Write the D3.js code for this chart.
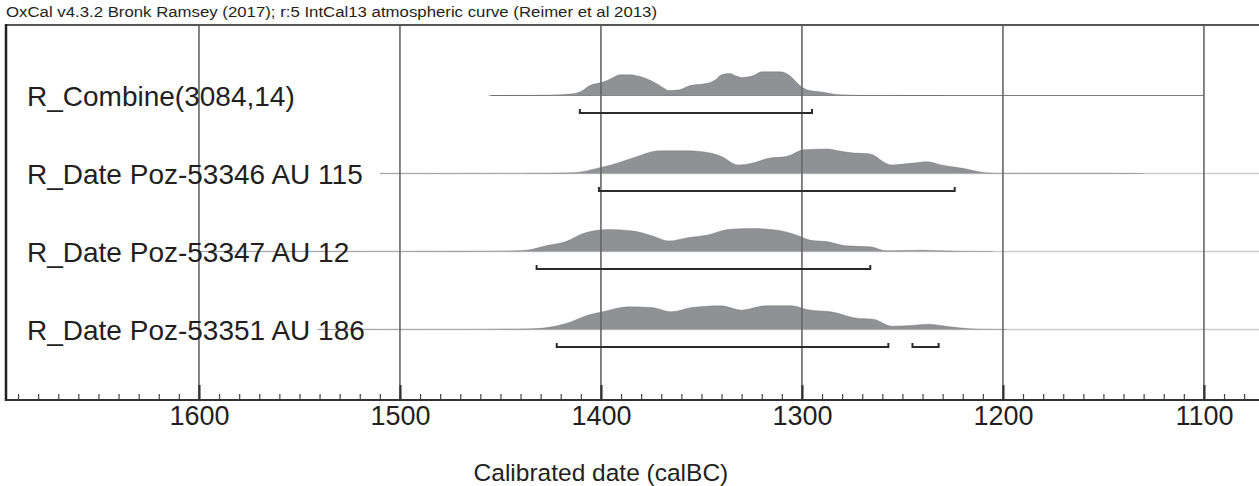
<!DOCTYPE html>
<html>
<head>
<meta charset="utf-8">
<script src="https://cdn.jsdelivr.net/npm/d3@7"></script>
<style>
  html, body { margin: 0; padding: 0; background: #fff; }
  svg { display: block; }
  text { font-family: "Liberation Sans", Arial, sans-serif; fill: #231f20; }
</style>
</head>
<body>
<svg id="chart" width="1259" height="486"></svg>
<script>
// ---- data -------------------------------------------------------------
const headerText = "OxCal v4.3.2 Bronk Ramsey (2017); r:5 IntCal13 atmospheric curve (Reimer et al 2013)";
const axisTitle = "Calibrated date (calBC)";

const rowLabels = [
  "R_Combine(3084,14)",
  "R_Date Poz-53346 AU 115",
  "R_Date Poz-53347 AU 12",
  "R_Date Poz-53351 AU 186"
];

// probability density per row: [year calBC, relative probability]
const combineDensity = [
  [1456,0],[1440,0.1],[1430,0.3],[1420,0.8],[1414,1.7],[1410,4],[1405.5,10],[1399.5,13.3],
  [1395,17],[1390.5,21],[1385.6,21],[1381,19.5],[1377,16.7],[1372,11.7],[1365.7,5],[1361,5.7],
  [1355.7,10],[1347,12.3],[1343,16],[1340,21],[1336,22.3],[1333,20],[1330,18.3],[1324.4,20],
  [1320,24],[1311,24],[1306,20],[1301,10],[1297.5,5.7],[1289.5,3.3],[1281,0.7],[1270,0.2],
  [1250,0.05],[1230,0]
];
const poz53346Density = [
  [1510,0],[1470,0.05],[1440,0.1],[1429,0.2],[1414,0.7],[1400,6.2],[1395,8.6],[1383,16.5],
  [1371,23],[1357.4,23],[1347,21.3],[1340,17.2],[1331.8,8.6],[1325,10.3],[1316.4,15.5],
  [1307.7,17.2],[1299,24],[1287,24.8],[1282,23],[1274.3,20.7],[1266.6,20],[1255.5,8.6],
  [1246,10.3],[1237.5,12],[1230.6,8.6],[1220,5.2],[1208.5,0.7],[1203,0.3],[1180,0.15],
  [1150,0.2],[1130,0]
];
const poz53347Density = [
  [1600,0],[1500,0.1],[1470,0.2],[1455,0.3],[1445,0.6],[1437,1.3],[1427.4,5.7],[1417.5,10],
  [1407.7,19],[1396,22.3],[1384,20.7],[1374.3,15.7],[1366.4,10.7],[1356.7,14],[1346.8,16.7],
  [1336.8,22.3],[1325,23.3],[1311.4,21.3],[1301.5,15.7],[1295.6,11.3],[1287.8,10],[1278,5.7],
  [1266,4.7],[1258,0.7],[1250,0.9],[1240.5,1.3],[1230.8,0.7],[1221,0.2],[1205,0]
];
const poz53351Density = [
  [1541,0],[1470,0.1],[1452.5,0.3],[1434,0.7],[1417.4,6],[1406.5,14.5],[1399,18],[1386,23],
  [1375,22.3],[1365,18],[1354.7,22.3],[1340,24],[1329.9,19.6],[1318,24],[1305,24],
  [1297.7,20.3],[1284.8,17.6],[1272,11.2],[1264.7,10.5],[1255,3.4],[1246,4],[1236.8,5.4],
  [1231,4],[1222,1.7],[1211,0.3],[1198,0]
];
const densities = [combineDensity, poz53346Density, poz53347Density, poz53351Density];

// full calculated span of each distribution [from, to] calBC
const rowSpans = [[1455, 1100], [1510, 1060], [1600, 1060], [1541, 1060]];

// highest posterior density ranges (95.4%)
const hpdRanges = [
  [[1410.5, 1295]],
  [[1401, 1224]],
  [[1432, 1266]],
  [[1422, 1257], [1245, 1232]]
];

const majorTicks = [1600, 1500, 1400, 1300, 1200, 1100];
const minorTicks = d3.range(1690, 1070, -10);

// ---- layout -----------------------------------------------------------
const W = 1259, H = 486;
const frame = { left: 6, top: 25, bottom: 400, right: 1259 };
const svg = d3.select("#chart");

const x = d3.scaleLinear().domain([1696, 1072.6]).range([frame.left, frame.right]);
const rowY = d3.scaleLinear().domain([0, rowLabels.length - 1]).range([95.5, 329.5]);
const maxP = d3.max(densities.flat(), d => d[1]);
const h = d3.scaleLinear().domain([0, maxP]).range([0, 24.5]);

const plot = svg.append("g");

// span lines behind each distribution
plot.selectAll("line.span").data(rowSpans).join("line")
  .attr("class", "span")
  .attr("x1", d => x(d[0])).attr("x2", d => Math.min(x(d[1]), W + 2))
  .attr("y1", (d, i) => rowY(i)).attr("y2", (d, i) => rowY(i))
  .attr("stroke", (d, i) => i === 0 ? "#7a7a7a" : "#cdcdcd")
  .attr("stroke-width", (d, i) => i === 0 ? 1.1 : 1.5);

// distributions: filled area plus an outline along the top edge
const area = d3.area()
  .x(d => x(d[0]))
  .y1(d => -h(d[1]))
  .y0(0)
  .curve(d3.curveMonotoneX);
const outline = d3.line()
  .x(d => x(d[0]))
  .y(d => -h(d[1]))
  .curve(d3.curveMonotoneX);

const dists = plot.selectAll("g.dist").data(densities).join("g")
  .attr("class", "dist")
  .attr("transform", (d, i) => `translate(0,${rowY(i)})`);
dists.append("path")
  .attr("d", area)
  .attr("fill", "#909195");
dists.append("path")
  .attr("d", outline)
  .attr("fill", "none")
  .attr("stroke", "#6a6a6c")
  .attr("stroke-width", 0.7)
  .attr("stroke-opacity", 0.55);

// vertical grid lines
plot.selectAll("line.grid").data(majorTicks).join("line")
  .attr("class", "grid")
  .attr("x1", d => x(d)).attr("x2", d => x(d))
  .attr("y1", frame.top).attr("y2", frame.bottom)
  .attr("stroke", "#666")
  .attr("stroke-width", 1.6);

// HPD range brackets
const bracketOffset = 17.5, bracketTick = 4;
hpdRanges.forEach((ranges, i) => {
  plot.selectAll(null).data(ranges).join("path")
    .attr("d", r => {
      const y = rowY(i) + bracketOffset;
      return `M${x(r[0])},${y - bracketTick}V${y}H${x(r[1])}V${y - bracketTick}`;
    })
    .attr("fill", "none")
    .attr("stroke", "#2b2b2b")
    .attr("stroke-width", 2);
});

// row labels
plot.selectAll("text.label").data(rowLabels).join("text")
  .attr("class", "label")
  .attr("x", 27)
  .attr("y", (d, i) => rowY(i) + 10)
  .attr("font-size", 28)
  .text(d => d);

// frame
svg.append("line")
  .attr("x1", frame.left).attr("x2", frame.right)
  .attr("y1", frame.top).attr("y2", frame.top)
  .attr("stroke", "#555").attr("stroke-width", 2);
svg.append("line")
  .attr("x1", frame.left).attr("x2", frame.left)
  .attr("y1", frame.top - 1).attr("y2", frame.bottom + 1)
  .attr("stroke", "#222").attr("stroke-width", 2.5);

// bottom axis: minor ticks, major ticks with labels
const axisG = svg.append("g").attr("transform", `translate(0,${frame.bottom})`);
axisG.append("g")
  .call(d3.axisBottom(x).tickValues(minorTicks).tickSize(-6).tickFormat(""))
  .call(g => g.select(".domain").remove())
  .call(g => g.selectAll(".tick line").attr("stroke", "#444").attr("stroke-width", 1.2));
axisG.append("g")
  .call(d3.axisBottom(x).tickValues(majorTicks).tickSize(-15).tickPadding(6).tickFormat(d3.format("d")))
  .call(g => g.select(".domain").remove())
  .call(g => g.selectAll(".tick line").attr("stroke", "#333").attr("stroke-width", 2.2))
  .call(g => g.selectAll(".tick text")
    .attr("font-size", 27)
    .attr("font-family", "Liberation Sans, Arial, sans-serif")
    .attr("fill", "#231f20"));
axisG.append("line")
  .attr("x1", frame.left).attr("x2", frame.right)
  .attr("y1", 0).attr("y2", 0)
  .attr("stroke", "#333").attr("stroke-width", 2);

// axis title
svg.append("text")
  .attr("x", x(1400)).attr("y", 481)
  .attr("text-anchor", "middle")
  .attr("font-size", 24.5)
  .text(axisTitle);

// header
svg.append("text")
  .attr("x", 6).attr("y", 17)
  .attr("font-size", 14)
  .attr("fill", "#333")
  .attr("textLength", 651)
  .attr("lengthAdjust", "spacingAndGlyphs")
  .text(headerText);
</script>
</body>
</html>
